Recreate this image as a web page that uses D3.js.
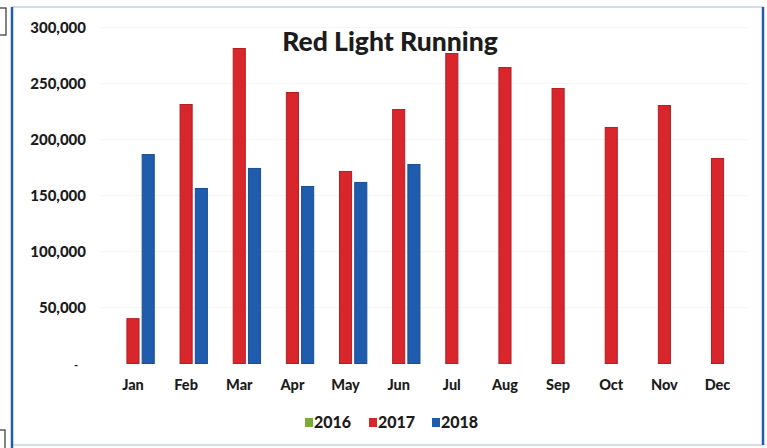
<!DOCTYPE html>
<html>
<head>
<meta charset="utf-8">
<script src="https://cdn.jsdelivr.net/npm/d3@7"></script>
<style>
  html, body { margin: 0; padding: 0; background: #fff; }
  svg { display: block; }
  text { font-family: Lato, "Open Sans", sans-serif; font-weight: 900; fill: #1c1c1c; }
</style>
</head>
<body>
<svg id="chart" width="767" height="448"></svg>
<script>
const months = ["Jan","Feb","Mar","Apr","May","Jun","Jul","Aug","Sep","Oct","Nov","Dec"];
const seriesNames = ["2016","2017","2018"];
const values2016 = [null,null,null,null,null,null,null,null,null,null,null,null];
const values2017 = [40500,231700,281700,242400,171900,227200,277200,264700,246000,211200,230800,183500];
const values2018 = [187000,156700,174600,158500,162100,178100,null,null,null,null,null,null];
const yTicks = [0,50000,100000,150000,200000,250000,300000];
const colors = ["#7aab3a","#d9262c","#1f5cae"];
const strokeColors = ["#5f8a2a","#b51e23","#1a4d92"];
const title = "Red Light Running";

const svg = d3.select("#chart");

// frame
svg.append("rect").attr("x",12).attr("y",7).attr("width",751).attr("height",438)
  .attr("fill","#fff").attr("stroke","#b9c6d6").attr("stroke-width",1.2);
svg.append("line").attr("x1",12).attr("x2",12).attr("y1",7).attr("y2",448)
  .attr("stroke","#1f5cae").attr("stroke-width",2.5);
svg.append("line").attr("x1",763).attr("x2",763).attr("y1",7).attr("y2",445)
  .attr("stroke","#1f5cae").attr("stroke-width",2.5);
// small boxes at left edge
svg.append("rect").attr("x",-2).attr("y",8).attr("width",8).attr("height",27)
  .attr("fill","#fff").attr("stroke","#333").attr("stroke-width",1.2);
svg.append("rect").attr("x",-2).attr("y",430).attr("width",7).attr("height",22)
  .attr("fill","#fff").attr("stroke","#333").attr("stroke-width",1.2);

const x0 = d3.scaleBand().domain(months).range([106.4, 744.1]).paddingInner(0.18).paddingOuter(0.09);
const x1 = d3.scaleBand().domain(seriesNames).range([0, x0.bandwidth()]).paddingInner(0.14);
const y = d3.scaleLinear().domain([0,300000]).range([363.5, 27.5]);

// faint gridlines
svg.append("g").selectAll("line").data(yTicks.slice(1)).join("line")
  .attr("x1",100).attr("x2",748).attr("y1",d=>y(d)).attr("y2",d=>y(d))
  .attr("stroke","#f5f5f5").attr("stroke-width",1);

// y axis labels
const yAxis = d3.axisLeft(y).tickValues(yTicks).tickSize(0).tickPadding(0)
  .tickFormat(d => d === 0 ? "-" : d3.format(",")(d));
const gy = svg.append("g").attr("transform","translate(86,0)").call(yAxis);
gy.select(".domain").remove();
gy.selectAll("text").attr("font-size",15).attr("font-family","Lato, sans-serif")
  .attr("font-weight",900).attr("fill","#1c1c1c");
gy.selectAll(".tick").filter(d=>d===0).select("text")
  .attr("fill","#9a9a9a").attr("font-size",11).attr("font-weight",400).attr("dx",-8).attr("dy","0.45em");

// x axis labels
const xAxis = d3.axisBottom(x0).tickSize(0).tickPadding(0);
const gx = svg.append("g").attr("transform","translate(0,380)").call(xAxis);
gx.select(".domain").remove();
gx.selectAll("text").attr("font-size",14.5).attr("font-family","Lato, sans-serif")
  .attr("font-weight",900).attr("fill","#1c1c1c");

// bars
const allSeries = [values2016, values2017, values2018];
const groups = svg.append("g").selectAll("g").data(months).join("g")
  .attr("transform", d => `translate(${x0(d)},0)`);
groups.selectAll("rect")
  .data((m,i) => seriesNames.map((s,k) => ({s, v: allSeries[k][i], k})).filter(o => o.v != null))
  .join("rect")
  .attr("x", d => x1(d.s) + 0.5)
  .attr("width", x1.bandwidth() - 1)
  .attr("y", d => y(d.v) + 0.5)
  .attr("height", d => y(0) - y(d.v) - 0.5)
  .attr("fill", d => colors[d.k])
  .attr("stroke", d => strokeColors[d.k])
  .attr("stroke-width", 1);

// title
svg.append("text").attr("x",390).attr("y",51).attr("text-anchor","middle")
  .attr("font-size",26.5).text(title);

// legend
const legendX = [305, 369, 432];
const lg = svg.append("g").selectAll("g").data(seriesNames).join("g")
  .attr("transform",(d,i)=>`translate(${legendX[i]},418)`);
lg.append("rect").attr("width",8).attr("height",9).attr("fill",(d,i)=>colors[i]);
lg.append("text").attr("x",9).attr("y",10).attr("font-size",16).text(d=>d);
</script>
</body>
</html>
